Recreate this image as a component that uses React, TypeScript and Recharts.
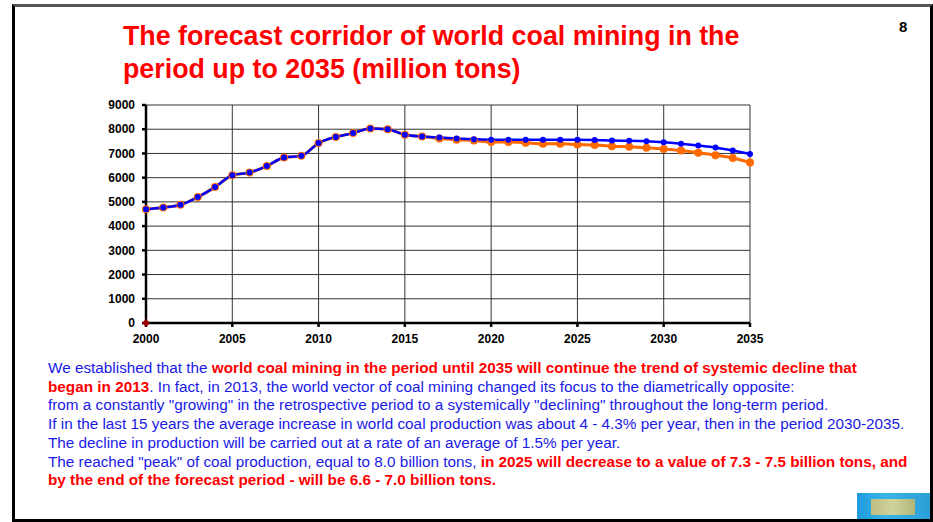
import { CartesianGrid, Line, LineChart, XAxis, YAxis } from "recharts";

const years = [
  2000, 2001, 2002, 2003, 2004, 2005, 2006, 2007, 2008, 2009, 2010, 2011,
  2012, 2013, 2014, 2015, 2016, 2017, 2018, 2019, 2020, 2021, 2022, 2023,
  2024, 2025, 2026, 2027, 2028, 2029, 2030, 2031, 2032, 2033, 2034, 2035,
];

// upper bound of the corridor (blue)
const upper = [
  4700, 4770, 4880, 5200, 5610, 6100, 6210, 6480, 6830, 6900, 7430, 7680,
  7840, 8030, 8000, 7770, 7700, 7660, 7620, 7590, 7570, 7570, 7570, 7570,
  7570, 7570, 7560, 7530, 7520, 7500, 7460, 7400, 7330, 7250, 7120, 6980,
];

// lower bound of the corridor (orange)
const lower = [
  4700, 4770, 4880, 5200, 5610, 6100, 6210, 6480, 6830, 6900, 7430, 7680,
  7840, 8030, 8000, 7770, 7700, 7620, 7570, 7530, 7470, 7470, 7440, 7400,
  7400, 7370, 7350, 7300, 7280, 7230, 7180, 7120, 7030, 6930, 6810, 6630,
];

// single marker sitting on the origin
const baseYear = 2000;
const baseValue = 0;

const xTicks = [2000, 2005, 2010, 2015, 2020, 2025, 2030, 2035];
const yTicks = [0, 1000, 2000, 3000, 4000, 5000, 6000, 7000, 8000, 9000];

const data = years.map((year, i) => ({
  year,
  upper: upper[i],
  lower: lower[i],
  base: year === baseYear ? baseValue : null,
}));

const FONT = '"Liberation Sans", Arial, sans-serif';
const BLUE = "#1a1ae6";
const RED = "#ff0000";

const tickStyle = { fontSize: 12, fontWeight: 700, fill: "#000", fontFamily: FONT };

function Diamond(props: any) {
  const { cx, cy, value, index } = props;
  if (value == null || cx == null || cy == null) return <g key={`d-${index}`} />;
  return (
    <path
      key={`d-${index}`}
      d={`M${cx},${cy - 4} L${cx + 4},${cy} L${cx},${cy + 4} L${cx - 4},${cy} Z`}
      fill="#990000"
    />
  );
}

export default function App() {
  return (
    <div
      style={{
        position: "absolute",
        left: 0,
        top: 0,
        width: 933,
        height: 522,
        background: "#fff",
        overflow: "hidden",
        fontFamily: FONT,
      }}
    >
      <div
        style={{
          position: "absolute",
          left: 12,
          top: 4,
          width: 921,
          height: 518,
          boxSizing: "border-box",
          border: "3px solid #000",
          borderTopColor: "#555",
        }}
      />
      <div
        style={{
          position: "absolute",
          left: 123,
          top: 20,
          color: RED,
          fontWeight: 700,
          fontSize: 26.8,
          lineHeight: "33px",
          whiteSpace: "nowrap",
        }}
      >
        The forecast corridor of world coal mining in the
        <br />
        period up to 2035 (million tons)
      </div>
      <div style={{ position: "absolute", left: 899, top: 18, fontSize: 15, fontWeight: 700 }}>8</div>

      <div style={{ position: "absolute", left: 0, top: 0 }}>
        <LineChart
          width={933}
          height={360}
          data={data}
          margin={{ top: 105, right: 183, left: 86, bottom: 7 }}
        >
          <CartesianGrid stroke="#333" strokeWidth={1} />
          <XAxis
            type="number"
            dataKey="year"
            domain={[2000, 2035]}
            ticks={xTicks}
            interval={0}
            height={30}
            stroke="#000"
            strokeWidth={2.5}
            tickSize={4}
            tickMargin={7}
            tick={tickStyle}
          />
          <YAxis
            type="number"
            domain={[0, 9000]}
            ticks={yTicks}
            interval={0}
            width={60}
            stroke="#000"
            strokeWidth={2.5}
            tickSize={4}
            tickMargin={7}
            tick={tickStyle}
          />
          <Line
            type="monotone"
            dataKey="lower"
            stroke="#ff6a00"
            strokeWidth={3}
            dot={{ r: 4, fill: "#ff6a00", stroke: "none" }}
            isAnimationActive={false}
          />
          <Line
            type="monotone"
            dataKey="upper"
            stroke="#0000ff"
            strokeWidth={2.5}
            dot={{ r: 3, fill: "#0000ff", stroke: "none" }}
            isAnimationActive={false}
          />
          <Line
            dataKey="base"
            stroke="none"
            dot={Diamond}
            isAnimationActive={false}
          />
        </LineChart>
      </div>

      <div
        style={{
          position: "absolute",
          left: 48,
          top: 359,
          fontSize: 15.3,
          lineHeight: "18.7px",
          color: BLUE,
          whiteSpace: "nowrap",
        }}
      >
        We established that the{" "}
        <b style={{ color: RED }}>
          world coal mining in the period until 2035 will continue the trend of systemic decline that
        </b>
        <br />
        <b style={{ color: RED }}>began in 2013</b>. In fact, in 2013, the world vector of coal mining changed its focus
        to the diametrically opposite:
        <br />
        from a constantly "growing" in the retrospective period to a systemically "declining" throughout the long-term
        period.
        <br />
        If in the last 15 years the average increase in world coal production was about 4 - 4.3% per year, then in the
        period 2030-2035.
        <br />
        The decline in production will be carried out at a rate of an average of 1.5% per year.
        <br />
        The reached "peak" of coal production, equal to 8.0 billion tons,{" "}
        <b style={{ color: RED }}>in 2025 will decrease to a value of 7.3 - 7.5 billion tons, and</b>
        <br />
        <b style={{ color: RED }}>by the end of the forecast period - will be 6.6 - 7.0 billion tons.</b>
      </div>

      <div
        style={{
          position: "absolute",
          left: 857,
          top: 493,
          width: 73,
          height: 26,
          background: "linear-gradient(90deg, #1f9be0, #39b5e6 40%, #2a9fd8)",
        }}
      >
        <div
          style={{
            position: "absolute",
            left: 14,
            top: 6,
            width: 44,
            height: 16,
            background: "linear-gradient(90deg, #d8c070, #e8d890, #c9b868)",
            opacity: 0.85,
          }}
        />
      </div>
    </div>
  );
}
